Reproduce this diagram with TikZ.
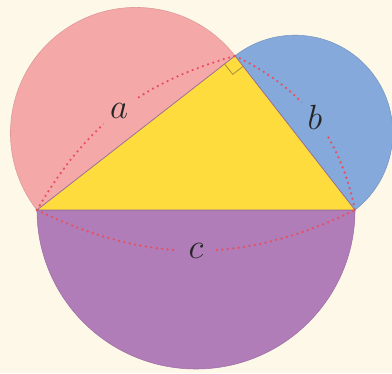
\documentclass[tikz,border=0pt]{standalone}
\usetikzlibrary{calc}
\definecolor{cback}{RGB}{254,248,232}
\definecolor{cpink}{RGB}{244,169,168}
\definecolor{cblue}{RGB}{132,169,218}
\definecolor{cpurp}{RGB}{176,125,184}
\definecolor{cyell}{RGB}{254,220,61}
\definecolor{cdots}{RGB}{232,78,92}
\definecolor{cmark}{RGB}{160,135,60}

\begin{document}
\begin{tikzpicture}[x=0.025cm,y=0.025cm,
  half/.style={fill=#1,draw=#1!90!black,line width=0.4pt},
  guide/.style={cdots,line width=1.8pt,line cap=round,dash pattern=on 0pt off 3.9pt},
  side/.style={circle,fill=#1,text=black!85,inner sep=0pt,minimum size=1cm,font=\fontsize{23}{26}\selectfont}]

% ===== frame =====
\useasboundingbox (0,0) rectangle (392,373);
\fill[cback] (0,0) rectangle (392,373);

% ===== triangle corners (C on the circle over AB) =====
\coordinate (O) at (196,163);
\coordinate (A) at (37,163);
\coordinate (B) at (355,163);
\coordinate (C) at ($(O)+(75.8:159)$);

% ===== semicircles on the three sides =====
\draw[half=cpurp] (B) arc[start angle=0,end angle=-180,radius=159] -- cycle;
\draw[half=cpink] (C) arc[start angle=37.9,end angle=217.9,radius=125.5] -- cycle;
\draw[half=cblue] (B) arc[start angle=-52.1,end angle=127.9,radius=97.7] -- cycle;

% ===== triangle =====
\draw[fill=cyell,draw=cpurp!85!black,line width=0.5pt,line join=round] (A) -- (B) -- (C) -- cycle;

% right angle
\coordinate (ma) at ($(C)!0.33cm!(A)$);
\coordinate (mb) at ($(C)!0.33cm!(B)$);
\draw[cmark,line width=0.5pt] (ma) -- ($(ma)+(mb)-(C)$) -- (mb);

% ===== dotted arcs with side names =====
\draw[guide] (A) to[bend left=22] node[side=cpink] (la) {$a$} (C);
\draw[guide] (C) to[bend left=26] node[side=cblue] (lb) {$b$} (B);
\draw[guide] (A) to[bend right=26] node[side=cpurp] (lc) {$c$} (B);
\end{tikzpicture}
\end{document}
